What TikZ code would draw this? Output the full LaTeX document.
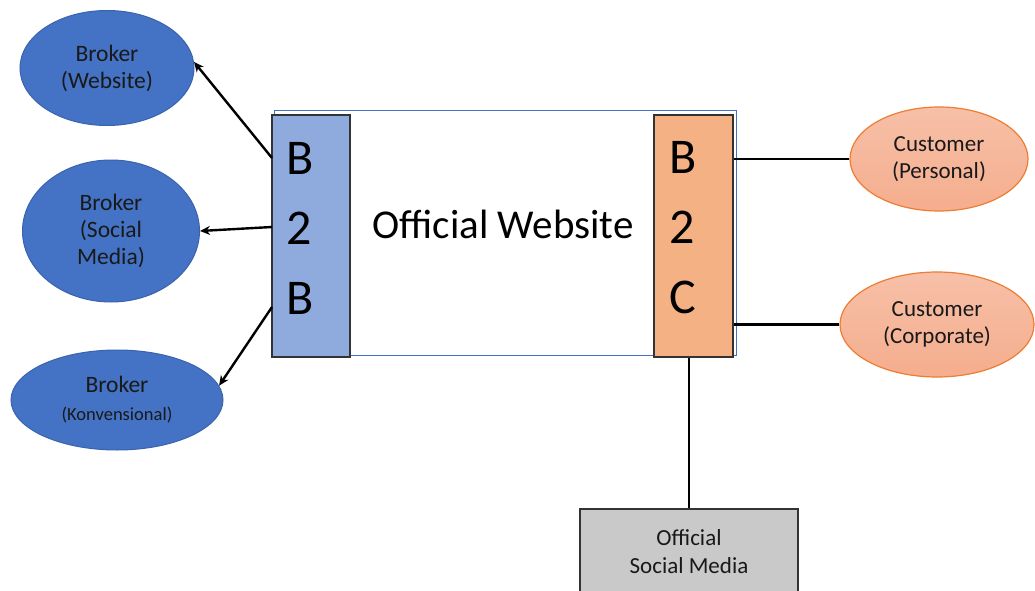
\documentclass[tikz,border=0pt]{standalone}
\usepackage{fontspec}
\setmainfont{Carlito}
\usetikzlibrary{shapes.geometric,arrows.meta}
\definecolor{brokerblue}{HTML}{4472C4}
\definecolor{brokeredge}{HTML}{3A63AD}
\definecolor{btwob}{HTML}{8FAADC}
\definecolor{btwoc}{HTML}{F4B183}
\definecolor{custfill}{HTML}{F5B092}
\definecolor{custedge}{HTML}{ED7D31}
\definecolor{smfill}{HTML}{C9C9C9}
\tikzset{
  broker/.style={ellipse, fill=brokerblue, draw=brokeredge, line width=1pt, inner sep=0pt,
    align=center, text=black!90, font=\fontsize{23.5}{27}\selectfont},
  customer/.style={ellipse, top color=custfill!80!white, bottom color=custfill!95!custedge, draw=custedge, line width=1.2pt, inner sep=0pt,
    align=center, text=black!90, font=\fontsize{23}{27}\selectfont},
  bar/.style={rectangle, draw=black!80, line width=1.2pt, inner sep=0pt, align=center,
    font=\fontsize{50}{70}\selectfont},
  conn/.style={line width=2.4pt, black},
  arr/.style={conn, -{Stealth[length=10pt,width=9pt]}}
}
\begin{document}
\begin{tikzpicture}[x=1pt,y=-1pt]
\useasboundingbox (0,0) rectangle (1035,591);
% outer website box
\node[draw=brokerblue, line width=1pt, minimum width=462pt, minimum height=244pt, inner sep=0pt] (web) at (505,233) {};
\node[font=\fontsize{41}{44}\selectfont] (webtxt) at (503,224) {Official Website};
% B2B and B2C bars
\node[bar, fill=btwob, minimum width=78pt, minimum height=242pt] (b2b) at (311,236) {};
\node[bar, fill=btwoc, minimum width=79pt, minimum height=242pt] (b2c) at (693.5,236) {};
\node[font=\fontsize{50}{70}\selectfont, align=left] (b2btxt) at (300,228) {B\\2\\B};
\node[font=\fontsize{50}{70}\selectfont, align=left] (b2ctxt) at (683,228) {B\\2\\C};
% brokers
\node[broker, minimum width=174pt, minimum height=115pt] (bw) at (107,68) {Broker\\(Website)};
\node[broker, minimum width=177pt, minimum height=142pt] (bs) at (111,231) {Broker\\(Social\\Media)};
\node[broker, minimum width=212pt, minimum height=100pt] (bk) at (117,400) {Broker\\[1pt]{\fontsize{18.5}{20}\selectfont(Konvensional)}};
% customers
\node[customer, minimum width=178pt, minimum height=104pt] (cp) at (939,159) {Customer\\(Personal)};
\node[customer, minimum width=194pt, minimum height=105pt] (cc) at (937,324.5) {Customer\\(Corporate)};
% social media box
\node[draw=black!80, fill=smfill, line width=1.2pt, minimum width=218pt, minimum height=100pt, inner sep=0pt] (sm) at (689,559) {};
\node[align=center, text=black!90, font=\fontsize{23}{28}\selectfont] (smtxt) at (689,552) {Official\\Social Media};
% connectors
\coordinate (a1) at (272,158);
\coordinate (a2) at (272,227);
\coordinate (a3) at (272,307);
\draw[arr] (a1) -- (bw.4);
\draw[arr] (a2) -- (bs.east);
\draw[arr] (a3) -- (bk.8);
\draw[conn] (b2c.east |- cp.west) -- (cp.west);
\draw[conn] (b2c.east |- cc.west) -- (cc.west);
\draw[conn] (b2c.south -| sm.north) -- (sm.north);
\end{tikzpicture}
\end{document}
